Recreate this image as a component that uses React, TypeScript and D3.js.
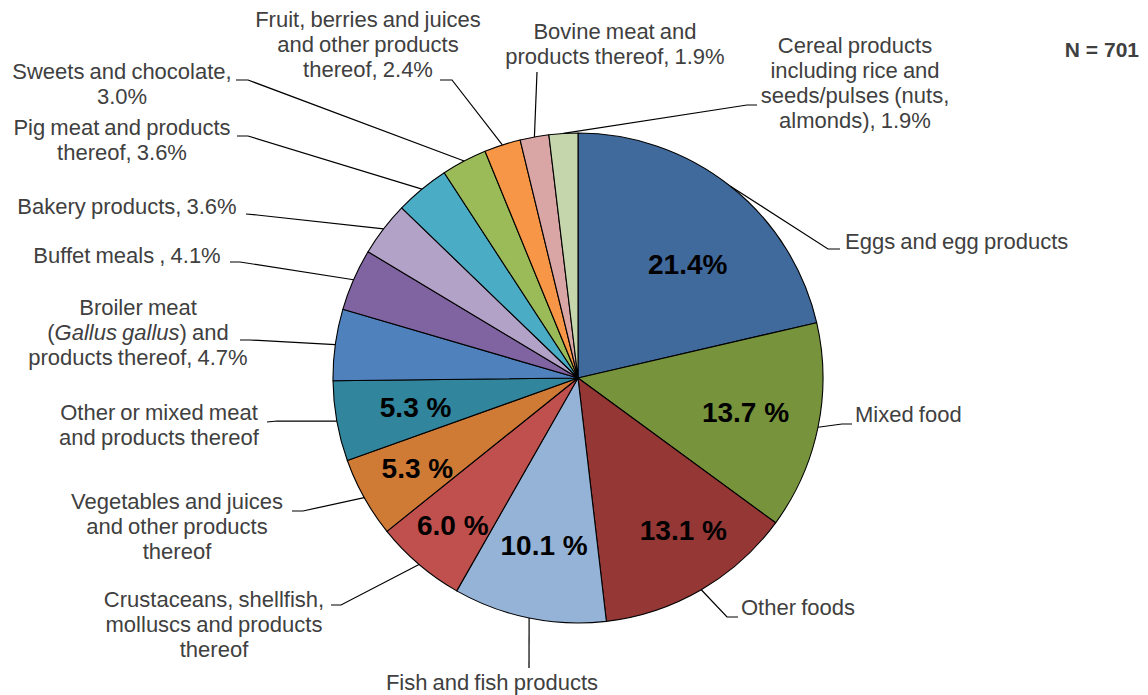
import React from "react";
import * as d3 from "d3";

const categories = [
  "Eggs and egg products",
  "Mixed food",
  "Other foods",
  "Fish and fish products",
  "Crustaceans, shellfish, molluscs and products thereof",
  "Vegetables and juices and other products thereof",
  "Other or mixed meat and products thereof",
  "Broiler meat (Gallus gallus) and products thereof",
  "Buffet meals",
  "Bakery products",
  "Pig meat and products thereof",
  "Sweets and chocolate",
  "Fruit, berries and juices and other products thereof",
  "Bovine meat and products thereof",
  "Cereal products including rice and seeds/pulses (nuts, almonds)",
];

const values = [21.4, 13.7, 13.1, 10.1, 6.0, 5.3, 5.3, 4.7, 4.1, 3.6, 3.6, 3.0, 2.4, 1.9, 1.9];

const innerLabels = ["21.4%", "13.7 %", "13.1 %", "10.1 %", "6.0 %", "5.3 %", "5.3 %", "", "", "", "", "", "", "", ""];

// *text* marks italic
const outerLabels: string[][] = [
  ["Eggs and egg products"],
  ["Mixed food"],
  ["Other foods"],
  ["Fish and fish products"],
  ["Crustaceans, shellfish,", "molluscs and products", "thereof"],
  ["Vegetables and juices", "and other products", "thereof"],
  ["Other or mixed meat", "and products thereof"],
  ["Broiler meat", "(*Gallus gallus*) and", "products thereof, 4.7%"],
  ["Buffet meals , 4.1%"],
  ["Bakery products, 3.6%"],
  ["Pig meat and products", "thereof, 3.6%"],
  ["Sweets and chocolate,", "3.0%"],
  ["Fruit, berries and juices", "and other products", "thereof, 2.4%"],
  ["Bovine meat and", "products thereof, 1.9%"],
  ["Cereal products", "including rice and", "seeds/pulses (nuts,", "almonds), 1.9%"],
];

const colors = [
  "#416A9C", "#77933C", "#953735", "#95B3D7", "#C0504D", "#CF7B36", "#31859C",
  "#4F81BD", "#8064A2", "#B3A2C7", "#4BACC6", "#9BBB59", "#F79646", "#D9A5A5", "#C6D6AC",
];

const totalN = "N = 701";

// layout (positions of label blocks and leader elbows)
type Lay = { tx: number; ty: number; anchor: string; elbow: [number, number]; end: [number, number]; inR?: number; dA?: number };
const layout: Lay[] = [
  { tx: 845, ty: 249, anchor: "start", elbow: [828, 249], end: [840, 249], inR: 158, dA: 5.5 },
  { tx: 855, ty: 422, anchor: "start", elbow: [842, 424], end: [852, 424], inR: 171 },
  { tx: 741, ty: 615, anchor: "start", elbow: [727, 617], end: [738, 617], inR: 185, dA: -4.5 },
  { tx: 492, ty: 690, anchor: "middle", elbow: [529, 668], end: [529, 668], inR: 170 },
  { tx: 214, ty: 607, anchor: "middle", elbow: [341, 605], end: [331, 605], inR: 193 },
  { tx: 177, ty: 509, anchor: "middle", elbow: [303, 511], end: [292, 511], inR: 184 },
  { tx: 159, ty: 420, anchor: "middle", elbow: [277, 421], end: [267, 422], inR: 165 },
  { tx: 138, ty: 315, anchor: "middle", elbow: [250, 340], end: [240, 340] },
  { tx: 127, ty: 263, anchor: "middle", elbow: [240, 262], end: [230, 262] },
  { tx: 127, ty: 214, anchor: "middle", elbow: [257, 215], end: [246, 214] },
  { tx: 122, ty: 135, anchor: "middle", elbow: [248, 136], end: [237, 136] },
  { tx: 122, ty: 79, anchor: "middle", elbow: [248, 80], end: [236, 80] },
  { tx: 368, ty: 27, anchor: "middle", elbow: [452, 80], end: [440, 80] },
  { tx: 615, ty: 39, anchor: "middle", elbow: [537, 72], end: [537, 72] },
  { tx: 855, ty: 53, anchor: "middle", elbow: [747, 105], end: [757, 105] },
];

const W = 1148, H = 695;
const cx = 578, cy = 378, R = 245;
const FONT = "'Liberation Sans', Arial, sans-serif";

function renderLine(line: string) {
  const parts = line.split("*");
  return parts.map((p, i) => (
    <tspan key={i} fontStyle={i % 2 === 1 ? "italic" : "normal"}>{p}</tspan>
  ));
}

export default function App() {
  const pie = d3.pie<number>().sort(null).value((d) => d).startAngle(0).endAngle(2 * Math.PI);
  const arcs = pie(values);
  const arcGen = d3.arc<d3.PieArcDatum<number>>().innerRadius(0).outerRadius(R);
  const pt = (a: number, r: number): [number, number] => [cx + r * Math.sin(a), cy - r * Math.cos(a)];
  const line = d3.line();

  return (
    <svg width={W} height={H} style={{ position: "absolute", left: 0, top: 0, background: "#fff" }} fontFamily={FONT}>
      <g transform={`translate(${cx},${cy})`}>
        {arcs.map((a, i) => (
          <path key={i} d={arcGen(a) || ""} fill={colors[i]} stroke="#000" strokeWidth={1.1} strokeLinejoin="round" />
        ))}
      </g>
      {arcs.map((a, i) => {
        const L = layout[i];
        const mid = (a.startAngle + a.endAngle) / 2;
        const s = pt(mid, R);
        const d = line([s, L.elbow, L.end]) || "";
        return <path key={"l" + i} d={d} fill="none" stroke="#000" strokeWidth={1.2} />;
      })}
      {arcs.map((a, i) => {
        const L = layout[i];
        if (!innerLabels[i]) return null;
        const mid = (a.startAngle + a.endAngle) / 2 + ((L.dA || 0) * Math.PI) / 180;
        const p = pt(mid, L.inR || R * 0.7);
        return (
          <text key={"i" + i} x={p[0]} y={p[1]} dy="0.36em" textAnchor="middle" fontSize={28} fontWeight="bold" fill="#000">
            {innerLabels[i]}
          </text>
        );
      })}
      {outerLabels.map((lines, i) => {
        const L = layout[i];
        return (
          <text key={"o" + i} textAnchor={L.anchor as any} fontSize={22} fill="#404040" wordSpacing={-1}>
            {lines.map((ln, j) => (
              <tspan key={j} x={L.tx} y={L.ty + j * 25}>{renderLine(ln)}</tspan>
            ))}
          </text>
        );
      })}
      <text x={1139} y={57} textAnchor="end" fontSize={21} fontWeight="bold" fill="#404040">{totalN}</text>
    </svg>
  );
}
